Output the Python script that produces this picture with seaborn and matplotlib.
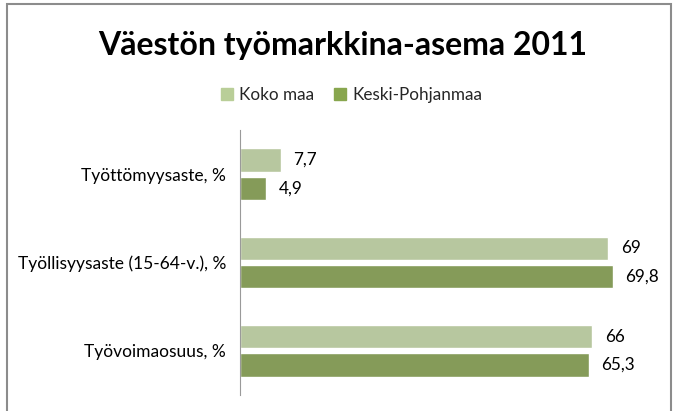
import matplotlib
matplotlib.use("Agg")
import matplotlib.pyplot as plt
import seaborn as sns
import pandas as pd
from matplotlib.patches import Rectangle

kategoriat = ["Työttömyysaste, %", "Työllisyysaste (15-64-v.), %", "Työvoimaosuus, %"]
koko_maa = [7.7, 69, 66]
keski_pohjanmaa = [4.9, 69.8, 65.3]
sarjat = ["Koko maa", "Keski-Pohjanmaa"]
varit = ["#B9CE98", "#88A64E"]

df = pd.DataFrame({
    "kategoria": kategoriat * 2,
    "arvo": koko_maa + keski_pohjanmaa,
    "alue": [sarjat[0]] * 3 + [sarjat[1]] * 3,
})

sns.set_style("white")
plt.rcParams["font.family"] = ["Lato", "DejaVu Sans"]

fig = plt.figure(figsize=(6.77, 4.11), dpi=100)
ax = fig.add_axes([240 / 677, 1 - 395 / 411, 427 / 677, 265 / 411])

sns.barplot(data=df, y="kategoria", x="arvo", hue="alue", palette=varit,
            orient="h", width=0.64, gap=0.17, ax=ax, legend=False)

ax.set_xlim(0, 80)
ax.set_ylim(2.5, -0.5)
ax.set_xlabel("")
ax.set_ylabel("")
ax.set_xticks([])
for s in ["top", "right", "bottom"]:
    ax.spines[s].set_visible(False)
ax.spines["left"].set_color("#9a9a9a")
ax.spines["left"].set_linewidth(0.8)
ax.tick_params(axis="y", length=0, pad=10, labelsize=12.5, labelcolor="#000000")

for cont in ax.containers:
    labels = [f"{v:g}".replace(".", ",") for v in cont.datavalues]
    ax.bar_label(cont, labels=labels, padding=9, fontsize=12.3, color="#000000")

fig.text(0.506, 1 - 45 / 411, "Väestön työmarkkina-asema 2011", ha="center", va="center",
         fontsize=23, fontweight="bold", color="#000000")

handles = [Rectangle((0, 0), 1, 1, color=c) for c in varit]
fig.legend(handles, sarjat, loc="center", bbox_to_anchor=(0.519, 1 - 95 / 411),
           ncol=2, frameon=False, fontsize=12.3, handlelength=0.7, handleheight=0.7,
           handletextpad=0.35, columnspacing=1.2)

fig.add_artist(Rectangle((7 / 677, -0.05), 664 / 677, 1.04, transform=fig.transFigure,
                         fill=False, edgecolor="#8c8c8c", linewidth=1.5))

fig.savefig("out.png", dpi=100)
